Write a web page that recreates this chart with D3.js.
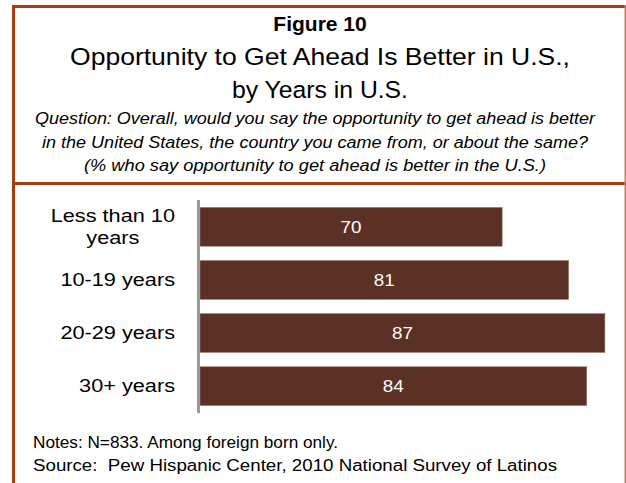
<!DOCTYPE html>
<html>
<head>
<meta charset="utf-8">
<script src="https://cdn.jsdelivr.net/npm/d3@7/dist/d3.min.js"></script>
<style>
  html, body { margin: 0; padding: 0; background: #fff; }
  svg { display: block; font-family: "Liberation Sans", Arial, sans-serif; }
  text { white-space: pre; }
</style>
</head>
<body>
<svg id="chart" width="626" height="483"></svg>
<script>
// Survey data: share saying opportunity to get ahead is better in the U.S.
const categories = ["Less than 10\nyears", "10-19 years", "20-29 years", "30+ years"];
const values = [70, 81, 87, 84];

const figureLabel = "Figure 10";
const titleLines = ["Opportunity to Get Ahead Is Better in U.S.,", "by Years in U.S."];
const questionLines = [
  "Question: Overall, would you say the opportunity to get ahead is better",
  "in the United States, the country you came from, or about the same?",
  "(% who say opportunity to get ahead is better in the U.S.)"
];
const noteLines = [
  "Notes: N=833. Among foreign born only.",
  "Source:  Pew Hispanic Center, 2010 National Survey of Latinos"
];

// Rendered widths of the text lines (the typeface is set wide)
const titleWidths = [500, 176];
const questionWidths = [560, 546, 462];
const noteWidths = [305, 524];

const svg = d3.select("#chart");
const frameColor = "#a53e0e";
const barColor = "#5c3125";

function fitWidth(sel, widthOf) {
  sel.attr("textLength", widthOf).attr("lengthAdjust", "spacingAndGlyphs");
}

// Frame around the figure
svg.append("rect").attr("x", 12).attr("y", 5).attr("width", 3).attr("height", 478).attr("fill", frameColor);
svg.append("rect").attr("x", 12).attr("y", 5).attr("width", 614).attr("height", 3).attr("fill", frameColor);
svg.append("rect").attr("x", 12).attr("y", 182).attr("width", 614).attr("height", 3).attr("fill", frameColor);
svg.append("rect").attr("x", 624.5).attr("y", 5).attr("width", 1.5).attr("height", 478).attr("fill", "#b5806c");

// Header text
const cx = 320;
svg.append("text").attr("x", cx).attr("y", 31).attr("text-anchor", "middle")
  .attr("font-size", 21).attr("font-weight", "bold").attr("fill", "#000").text(figureLabel);
svg.selectAll("text.title").data(titleLines).join("text").attr("class", "title")
  .attr("x", cx).attr("y", (d, i) => 65 + i * 33).attr("text-anchor", "middle")
  .attr("font-size", 24.5).attr("fill", "#000").text(d => d)
  .call(fitWidth, (d, i) => titleWidths[i]);
svg.selectAll("text.question").data(questionLines).join("text").attr("class", "question")
  .attr("x", 315).attr("y", (d, i) => 124 + i * 23.5).attr("text-anchor", "middle")
  .attr("font-size", 16).attr("font-style", "italic").attr("fill", "#000").text(d => d)
  .call(fitWidth, (d, i) => questionWidths[i]);

// Scales: value axis starts at 20, bars begin at the category axis
const x = d3.scaleLinear().domain([20, 90]).range([200, 623]);
const y = d3.scaleBand().domain(categories).range([200, 413]).paddingInner(0.27).paddingOuter(0.14);

const bars = svg.append("g");
bars.selectAll("rect").data(values).join("rect")
  .attr("x", x(20))
  .attr("y", (d, i) => y(categories[i]))
  .attr("width", d => x(d) - x(20))
  .attr("height", y.bandwidth())
  .attr("fill", barColor)
  .attr("stroke", "#9a7266").attr("stroke-width", 0.6);

bars.selectAll("text").data(values).join("text")
  .attr("x", d => (x(20) + x(d)) / 2)
  .attr("y", (d, i) => y(categories[i]) + y.bandwidth() / 2 + 6)
  .attr("text-anchor", "middle").attr("font-size", 16.5).attr("fill", "#fff")
  .text(d => d)
  .call(fitWidth, 21);

// Category axis line
svg.append("line").attr("x1", 198.5).attr("x2", 198.5).attr("y1", 200).attr("y2", 413)
  .attr("stroke", "#999").attr("stroke-width", 3);

// Category labels: multi-line labels centered among their lines, block right-aligned
const labelRight = 175;
const labelStretch = 1.24;
categories.forEach((c, i) => {
  const lines = c.split("\n");
  const g = svg.append("g");
  const texts = lines.map((ln, j) => g.append("text")
    .attr("font-size", 17.5).attr("fill", "#000").attr("text-anchor", "middle")
    .attr("y", y(c) + y.bandwidth() / 2 + 6 + (j - (lines.length - 1) / 2) * 22)
    .text(ln));
  const widths = texts.map(t => t.node().getComputedTextLength() * labelStretch);
  const maxW = d3.max(widths);
  texts.forEach((t, j) => t.attr("x", labelRight - maxW / 2)
    .attr("textLength", widths[j]).attr("lengthAdjust", "spacingAndGlyphs"));
});

// Notes
svg.selectAll("text.note").data(noteLines).join("text").attr("class", "note")
  .attr("x", 33).attr("y", (d, i) => 448 + i * 23)
  .attr("font-size", 16).attr("fill", "#000").text(d => d)
  .call(fitWidth, (d, i) => noteWidths[i]);
</script>
</body>
</html>
